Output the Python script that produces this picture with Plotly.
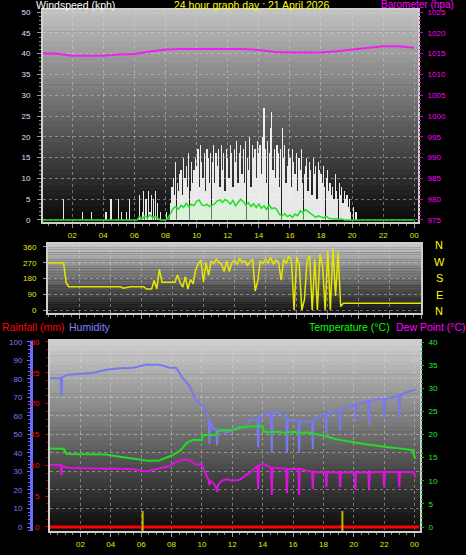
import plotly.graph_objects as go

# ---------------- data ----------------
title_text = "24 hour graph day : 21 April 2026"
hour_ticks = [2, 4, 6, 8, 10, 12, 14, 16, 18, 20, 22, 24]
hour_labels = ["02", "04", "06", "08", "10", "12", "14", "16", "18", "20", "22", "00"]

# wind gust (kph), 5-minute readings, one row per hour
gust_step_min = 5
gust_kph = [
    0, 0, 0, 0, 0, 0, 0, 0, 0, 0, 0, 0,
    0, 0, 0, 0, 0, 5, 0, 0, 0, 0, 0, 0,
    0, 0, 0, 0, 0, 0, 0, 0, 2, 0, 0, 0,
    0, 0, 0, 2, 0, 0, 0, 0, 0, 0, 0, 0,
    0, 0, 2, 0, 0, 0, 5, 0, 0, 0, 0, 0,
    5, 0, 2, 0, 0, 0, 2, 0, 5, 0, 0, 0,
    0, 0, 0, 0, 6, 0, 2, 7, 0, 5, 0, 7,
    2, 6, 0, 5, 7, 0, 4, 0, 2, 0, 0, 0,
    0, 2, 0, 0, 4, 8, 10, 6, 14, 9, 7, 11,
    12, 6, 15, 10, 13, 8, 16, 7, 14, 9, 12, 15,
    13, 17, 8, 18, 14, 10, 16, 7, 17, 15, 9, 16,
    14, 18, 9, 16, 13, 17, 8, 18, 12, 16, 7, 17,
    15, 10, 18, 16, 8, 17, 14, 19, 9, 16, 18, 11,
    17, 9, 19, 15, 12, 20, 8, 18, 15, 17, 10, 19,
    16, 18, 11, 20, 27, 17, 9, 19, 16, 22, 26, 12,
    17, 10, 18, 16, 8, 17, 22, 15, 18, 9, 13, 17,
    15, 8, 17, 14, 11, 16, 7, 15, 12, 17, 9, 11,
    13, 15, 7, 14, 12, 6, 15, 11, 13, 5, 14, 12,
    11, 9, 13, 8, 10, 12, 7, 9, 6, 8, 5, 11,
    7, 5, 9, 6, 8, 4, 7, 5, 6, 3, 5, 2,
    0, 3, 0, 2, 0, 0, 0, 0, 0, 0, 0, 0,
    0, 0, 0, 0, 0, 0, 0, 0, 0, 0, 0, 0,
    0, 0, 0, 0, 0, 0, 0, 0, 0, 0, 0, 0,
    0, 0, 0, 0, 0, 0, 0, 0, 0, 0, 0, 0,
]

# average wind speed (kph), 10-minute readings
avg_step_min = 10
wind_avg_kph = [
    0, 0, 0, 0, 0, 0,
    0, 0, 0, 0, 0, 0,
    0, 0, 0, 0, 0, 0,
    0, 0, 0, 0, 0, 0,
    0, 0, 0, 0, 0, 0,
    0, 0, 0, 0, 0, 0,
    0, 0, 0.8, 0.3, 1.0, 0.5,
    1.2, 0.6, 0.9, 0.4, 0, 0,
    0, 0.5, 1.5, 2.8, 3.2, 2.6,
    3.5, 3.0, 4.0, 3.2, 3.8, 3.4,
    4.5, 4.8, 3.6, 3.4, 3.8, 3.2,
    3.5, 3.9, 4.6, 4.8, 4.2, 4.9,
    4.5, 3.8, 4.7, 3.4, 4.2, 5.0,
    4.4, 3.6, 4.1, 3.2, 3.9, 3.0,
    3.8, 2.8, 3.4, 2.5, 3.6, 2.7,
    2.9, 2.5, 1.3, 1.0, 1.5, 0.8,
    1.2, 0.6, 1.4, 1.0, 2.2, 1.8,
    2.5, 2.0, 1.6, 0.9, 0.6, 1.0,
    0.8, 0.5, 0.9, 0.4, 0.3, 0.2,
    0.3, 0.1, 0.2, 0, 0, 0,
    0, 0, 0, 0, 0, 0,
    0, 0, 0, 0, 0, 0,
    0, 0, 0, 0, 0, 0,
    0, 0, 0, 0, 0, 0,
    0,
]

# barometer (hPa), hourly
baro_hpa = [1015.1, 1015.0, 1014.5, 1014.5, 1014.5, 1014.8, 1014.9, 1015.5, 1016.0,
            1016.1, 1016.1, 1016.1, 1016.1, 1016.1, 1015.9, 1015.4, 1015.3, 1015.3,
            1015.3, 1015.6, 1016.0, 1016.5, 1016.8, 1016.8, 1016.4]

# wind direction (degrees), 10-minute readings
dir_step_min = 10
wind_dir_deg = [
    270, 270, 270, 270, 270, 270,
    270, 156, 133, 133, 133, 133,
    133, 133, 133, 133, 133, 133,
    133, 133, 133, 133, 133, 133,
    133, 133, 133, 133, 133, 125,
    128, 133, 133, 133, 133, 133,
    133, 133, 120, 120, 120, 170,
    120, 234, 158, 158, 158, 158,
    158, 158, 200, 158, 130, 190,
    120, 175, 150, 230, 265, 285,
    160, 270, 200, 280, 265, 290,
    275, 260, 220, 280, 220, 270,
    285, 260, 295, 270, 280, 255,
    275, 290, 108, 170, 280, 265,
    290, 270, 300, 260, 285, 275,
    170, 290, 265, 310, 280, 0,
    300, 260, 0, 60, 280, 310,
    0, 290, 0, 320, 250, 0,
    340, 0, 350, 80, 330, 20,
    38, 38, 38, 38, 38, 38,
    38, 38, 38, 38, 38, 38,
    38, 38, 38, 38, 38, 38,
    38, 38, 38, 38, 38, 38,
    38, 38, 38, 38, 38, 38,
    38,
]

# humidity (%) and dew point (C), logged at these hours
hum_times = [0.0, 0.5, 0.7, 0.75, 0.8, 1.2, 2.0, 2.8, 3.7, 4.6, 5.5, 6.3, 7.2, 7.9, 8.3,
             8.7, 9.2, 9.6, 10.0, 10.3, 10.45, 10.5, 10.55, 10.75, 10.95, 11.0, 11.05,
             11.3, 11.6, 12.0, 12.5, 12.9, 13.2, 13.65, 13.7, 13.75, 14.1, 14.55, 14.6,
             14.65, 15.1, 15.55, 15.6, 15.65, 16.0, 16.35, 16.4, 16.45, 16.8, 17.25,
             17.3, 17.35, 17.9, 18.15, 18.2, 18.25, 18.6, 19.05, 19.1, 19.15, 19.6,
             20.05, 20.1, 20.15, 20.5, 20.95, 21.0, 21.05, 21.5, 21.95, 22.0, 22.05,
             22.5, 22.95, 23.0, 23.05, 23.5, 23.95, 24.05]
humidity_pct = [80.4, 80.4, 80.4, 71, 81, 82.3, 82.8, 83.2, 85.0, 85.8, 86.0, 87.6, 87.6,
                86, 86, 81, 76, 68.6, 66, 62, 58, 45, 57, 53, 53, 44, 52,
                52, 51, 52, 54, 54, 58, 58, 43, 59, 60, 62, 40,
                62, 62, 59, 40, 58, 57, 58, 40, 57, 57, 57,
                42, 58, 60, 61, 51, 61, 62, 63, 52, 63, 65,
                66, 57, 66, 67, 68, 55, 68, 69, 69, 59, 69,
                70, 71, 59, 71, 73, 74, 74]
dewpoint_c = [13.4, 13.4, 13.4, 11.2, 13.2, 12.8, 12.7, 12.7, 12.6, 12.6, 12.5, 12.0, 12.6,
              13.2, 14.0, 14.5, 14.5, 13.5, 13.5, 11.0, 10.0, 9.0, 10.0, 9.5, 8.5, 7.6, 9.0,
              10.0, 10.3, 10.0, 10.2, 11.2, 11.8, 13.2, 8.2, 13.3, 13.6, 12.8, 6.9,
              12.8, 12.7, 12.6, 7.3, 12.6, 12.5, 12.6, 6.9, 12.6, 12.3, 12.0,
              8.2, 12.0, 11.8, 11.9, 8.6, 11.9, 11.8, 11.8, 8.6, 11.8, 11.8,
              11.8, 8.0, 11.8, 11.8, 11.8, 8.2, 11.8, 11.9, 11.9, 8.6, 11.9,
              11.9, 11.9, 8.6, 11.9, 11.9, 11.9, 10.7]

# temperature (C)
temp_times = [0.0, 0.5, 0.9, 1.1, 2.0, 3.7, 4.6, 5.5, 6.1, 6.5, 7.2, 8.1, 8.6, 9.0, 9.4,
              9.9, 10.0, 10.05, 10.9, 11.0, 11.2, 12.0, 12.5, 13.3, 14.0, 14.1, 14.5,
              15.0, 15.5, 16.0, 16.5, 17.0, 17.3, 17.8, 18.3, 18.8, 19.1, 19.6, 20.2,
              20.8, 21.2, 21.8, 22.4, 23.0, 23.6, 23.9, 24.0, 24.1]
temperature_c = [17.0, 17.0, 16.9, 15.8, 15.8, 15.7, 15.2, 14.8, 14.5, 14.3, 14.4, 15.6,
                 16.6, 18.2, 18.8, 18.8, 18.8, 19.9, 19.9, 20.4, 21.0, 21.0, 21.5, 21.8,
                 21.8, 20.6, 20.5, 20.6, 20.4, 20.6, 20.4, 20.5, 20.3, 19.9, 19.5, 19.0,
                 18.8, 18.5, 18.2, 17.9, 17.7, 17.4, 17.2, 17.0, 16.8, 16.6, 15.0, 14.9]

# rainfall (mm)
rain_times = [0.0, 24.3]
rainfall_mm = [0, 0]

# day markers (hours)
sun_event_hours = [6.1, 19.25]

# ---------------- layout helpers ----------------
W, H = 466, 555


def px(x):
    return x / W


def py(y):
    return 1 - y / H


FT = "Liberation Sans, Arial, sans-serif"
FN = "Liberation Sans Narrow, Arial Narrow, Liberation Sans, sans-serif"
GRID = "rgba(215,215,215,0.45)"
FRAME = "#cfcfcf"
YEL = "#e6e600"

t_gust = [i * gust_step_min / 60 for i in range(len(gust_kph))]
t_avg = [i * avg_step_min / 60 for i in range(len(wind_avg_kph))]
t_baro = list(range(len(baro_hpa)))
t_dir = [i * dir_step_min / 60 for i in range(len(wind_dir_deg))]

fig = go.Figure()

# panel 1: wind + barometer
fig.add_trace(go.Bar(x=t_gust, y=gust_kph, width=gust_step_min / 60 * 0.95,
                     marker=dict(color="rgba(255,255,255,0.9)", line=dict(width=0)),
                     xaxis="x", yaxis="y"))
fig.add_trace(go.Scatter(x=t_avg, y=wind_avg_kph, mode="lines", fill="tozeroy",
                         fillcolor="rgba(200,255,200,0.45)",
                         line=dict(color="#22dd22", width=1.5), xaxis="x", yaxis="y"))
fig.add_trace(go.Scatter(x=t_baro, y=baro_hpa, mode="lines",
                         line=dict(color="#ee22ee", width=2), xaxis="x", yaxis="y2"))

# panel 2: direction
fig.add_trace(go.Scatter(x=t_dir, y=wind_dir_deg, mode="lines",
                         line=dict(color=YEL, width=1.5), xaxis="x2", yaxis="y3"))

# panel 3
fig.add_trace(go.Scatter(x=hum_times, y=humidity_pct, mode="lines",
                         line=dict(color="#7878f0", width=2), xaxis="x3", yaxis="y5"))
fig.add_trace(go.Scatter(x=temp_times, y=temperature_c, mode="lines",
                         line=dict(color="#22dd22", width=2), xaxis="x3", yaxis="y6"))
fig.add_trace(go.Scatter(x=hum_times, y=dewpoint_c, mode="lines",
                         line=dict(color="#dd11dd", width=2), xaxis="x3", yaxis="y6"))
fig.add_trace(go.Scatter(x=rain_times, y=rainfall_mm, mode="lines",
                         line=dict(color="#ff0000", width=3), xaxis="x3", yaxis="y4"))


def gradient(xr, yr, top, bottom, n=40):
    out = []
    for i in range(n):
        f = i / (n - 1)
        c = int(round(top + (bottom - top) * f))
        out.append(dict(type="rect", xref=xr + " domain", yref=yr + " domain",
                        x0=0, x1=1, y0=1 - (i + 1) / n - 0.003, y1=1 - i / n,
                        fillcolor=f"rgb({c},{c},{c})", line=dict(width=0), layer="below"))
    return out


shapes = []
shapes += gradient("x", "y", 192, 10)
shapes += gradient("x2", "y3", 200, 22)
shapes += gradient("x3", "y4", 205, 12)
for t in sun_event_hours:
    shapes.append(dict(type="line", xref="x3", yref="y4 domain", x0=t, x1=t, y0=0.0, y1=0.105,
                       line=dict(color="#c8b400", width=2), layer="above"))


def xaxis(dom, anchor, rng, labels=True):
    return dict(domain=[px(dom[0]), px(dom[1])], anchor=anchor, range=rng,
                tickmode="array", tickvals=hour_ticks, ticktext=hour_labels,
                showticklabels=labels, tickfont=dict(family=FN, size=8, color=YEL),
                ticks="outside", ticklen=4, tickcolor="#9a9a9a",
                minor=dict(tickmode="linear", tick0=0, dtick=0.5, ticks="outside",
                           ticklen=2, tickcolor="#8a8a8a", showgrid=False),
                showgrid=True, gridcolor=GRID, griddash="dot", gridwidth=1,
                showline=True, linecolor=FRAME, linewidth=2, mirror=True,
                zeroline=False, automargin=False, fixedrange=True)


layout_axes = dict(
    xaxis=xaxis((43, 418), "y", [0.12, 24.24]),
    yaxis=dict(domain=[py(222), py(10)], anchor="x", range=[-0.5, 50.5],
               tickmode="linear", tick0=0, dtick=5,
               tickfont=dict(family=FN, size=8, color="#d8e4ff"),
               ticks="outside", ticklen=4, tickcolor="#9a9a9a", ticklabelstandoff=5,
               minor=dict(tickmode="linear", tick0=0, dtick=1, ticks="outside",
                          ticklen=2, tickcolor="#8a8a8a", showgrid=False),
               showgrid=True, gridcolor=GRID, griddash="dot",
               showline=True, linecolor=FRAME, linewidth=2, mirror=True,
               zeroline=False, automargin=False, fixedrange=True),
    yaxis2=dict(overlaying="y", anchor="x", side="right", range=[974.5, 1025.5],
                tickmode="linear", tick0=975, dtick=5,
                tickfont=dict(family=FN, size=8, color="#ff00ff"),
                ticks="outside", ticklen=4, tickcolor="#cc00cc", ticklabelstandoff=3,
                minor=dict(tickmode="linear", tick0=975, dtick=1, ticks="outside",
                           ticklen=2, tickcolor="#aa00aa", showgrid=False),
                showgrid=False, zeroline=False, showline=False, automargin=False),
    xaxis2=xaxis((48, 421), "y3", [0, 24], labels=False),
    yaxis3=dict(domain=[py(313), py(244)], anchor="x2", range=[-17, 377],
                tickmode="linear", tick0=0, dtick=90,
                tickfont=dict(family=FN, size=8, color=YEL),
                ticks="outside", ticklen=3, tickcolor="#9a9a9a", ticklabelstandoff=5,
                showgrid=True, gridcolor=GRID, griddash="dot",
                showline=True, linecolor=FRAME, linewidth=2, mirror=True,
                zeroline=False, automargin=False, fixedrange=True),
    xaxis3=xaxis((50, 420), "y4", [0, 24.36]),
    yaxis4=dict(domain=[py(531), py(341)], anchor="x3", range=[-0.65, 30.16],
                tickmode="linear", tick0=0, dtick=5,
                tickfont=dict(family=FN, size=8, color="#ff1010"),
                ticks="outside", ticklen=3, tickcolor="#cc0000", ticklabelstandoff=4,
                minor=dict(tickmode="linear", tick0=0, dtick=1.25, ticks="outside",
                           ticklen=2, tickcolor="#aa0000", showgrid=False),
                showgrid=False, showline=True, linecolor=FRAME, linewidth=2, mirror=True,
                zeroline=False, automargin=False, fixedrange=True),
    yaxis5=dict(overlaying="y4", anchor="free", position=px(31), side="left",
                range=[-2.16, 100.5], tickmode="linear", tick0=0, dtick=10,
                tickfont=dict(family=FN, size=8, color="#7c7cff"),
                ticks="outside", ticklen=3, tickcolor="#7070ff", ticklabelstandoff=3,
                minor=dict(tickmode="linear", tick0=0, dtick=2, ticks="outside",
                           ticklen=2, tickcolor="#6a6aff", showgrid=False),
                showgrid=True, gridcolor=GRID, griddash="dot",
                showline=True, linecolor="#6a6aff", linewidth=3,
                zeroline=False, automargin=False),
    yaxis6=dict(overlaying="y4", anchor="x3", side="right", range=[-0.865, 40.22],
                tickmode="linear", tick0=0, dtick=5,
                tickfont=dict(family=FN, size=8, color="#22ee22"),
                ticks="outside", ticklen=3, tickcolor="#11bb11", ticklabelstandoff=3,
                minor=dict(tickmode="linear", tick0=0, dtick=1, ticks="outside",
                           ticklen=2, tickcolor="#119911", showgrid=False),
                showgrid=False, zeroline=False, showline=False, automargin=False),
)


def label(text, x, y, color, anchor="left", size=10.5):
    return dict(text=text, x=px(x), y=py(y), xref="paper", yref="paper",
                xanchor=anchor, yanchor="middle", showarrow=False,
                font=dict(family=FT, size=size, color=color))


annotations = [
    label("Windspeed (kph)", 34, 5, "#ffffff"),
    label(title_text, 251, 5, "#ffff00", anchor="center"),
    label("Barometer (hpa)", 456, 4.5, "#ff00ff", anchor="right", size=10),
    label("Rainfall (mm)", 0, 327, "#ff0000"),
    label("Humidity", 67, 327, "#8080ff"),
    label("Temperature (°C)", 392, 327, "#00ff00", anchor="right"),
    label("Dew Point (°C)", 394, 327, "#ff00ff"),
]
for letter, yy in zip(["N", "W", "S", "E", "N"], [245, 262, 278, 295, 311]):
    annotations.append(label(letter, 439, yy, "#ffff00", anchor="center", size=11))

fig.update_layout(
    template="none",
    width=W, height=H, autosize=False,
    margin=dict(l=0, r=0, t=0, b=0, pad=0),
    paper_bgcolor="#000000", plot_bgcolor="#000000",
    showlegend=False, hovermode=False, bargap=0, dragmode=False,
    shapes=shapes, annotations=annotations,
    **layout_axes,
)

fig.write_html("out.html", config={"displayModeBar": False, "staticPlot": True})
with open("out.html", "r", encoding="utf-8") as fh:
    html = fh.read()
html = html.replace("<head>", "<head><style>html,body{margin:0;padding:0;overflow:hidden;background:#000;}</style>", 1)
with open("out.html", "w", encoding="utf-8") as fh:
    fh.write(html)
